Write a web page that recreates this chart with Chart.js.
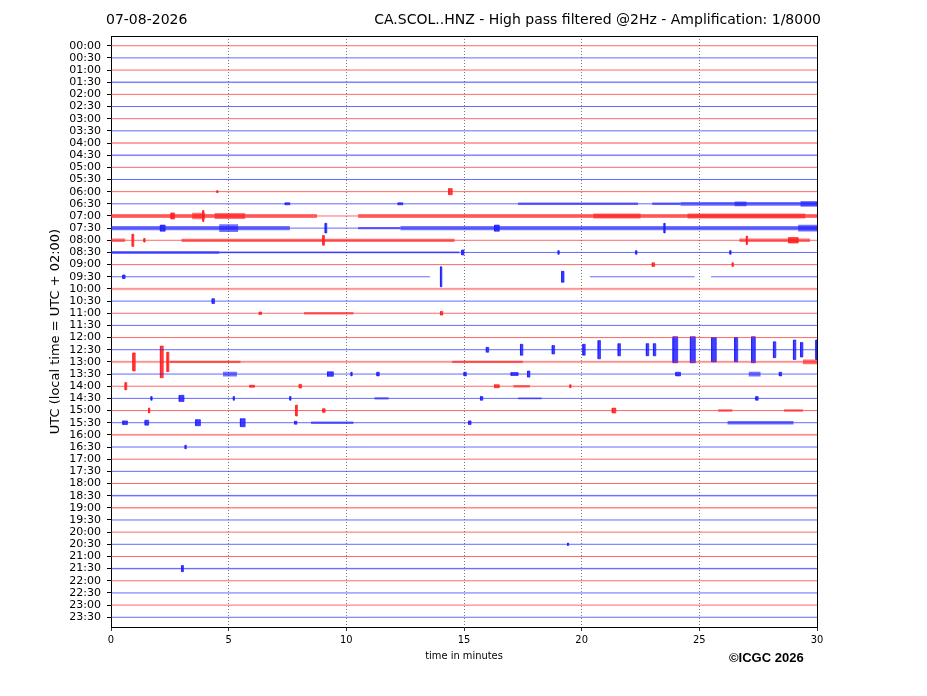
<!DOCTYPE html>
<html>
<head>
<meta charset="utf-8">
<script src="https://cdn.jsdelivr.net/npm/chart.js@4.4.0/dist/chart.umd.min.js"></script>
<style>
  body { margin: 0; background: #fff; }
  #wrap { position: relative; width: 927px; height: 696px; }
  #heli { position: absolute; left: 0; top: 0; }
  .t { position: absolute; font-family: "DejaVu Sans"; font-size: 14px; color: #000; white-space: nowrap; }
</style>
</head>
<body>
<div id="wrap">
  <canvas id="heli" width="927" height="696"></canvas>
  <div class="t" style="left:106px; top:11px;">07-08-2026</div>
  <div class="t" style="right:106px; top:11px;">CA.SCOL..HNZ - High pass filtered @2Hz - Amplification: 1/8000</div>
  <div class="t" style="left:729px; top:650px; font-family:'Liberation Sans'; font-weight:bold; font-size:13px;">©ICGC 2026</div>
</div>
<script>
// one trace per half hour, 0..30 minutes each
const rowLabels = [
  '00:00','00:30','01:00','01:30','02:00','02:30','03:00','03:30',
  '04:00','04:30','05:00','05:30','06:00','06:30','07:00','07:30',
  '08:00','08:30','09:00','09:30','10:00','10:30','11:00','11:30',
  '12:00','12:30','13:00','13:30','14:00','14:30','15:00','15:30',
  '16:00','16:30','17:00','17:30','18:00','18:30','19:00','19:30',
  '20:00','20:30','21:00','21:30','22:00','22:30','23:00','23:30'
];
const xTicks = [0, 5, 10, 15, 20, 25, 30];

// missing data: [row, from minute, to minute]
const dataGaps = [
  [19, 13.55, 20.35],
  [19, 24.8, 25.5]
];

// background noise that thickens some traces: [row, amplitude in trace units]
const hazeRows = [
  [3, 0.08], [8, 0.06], [9, 0.08], [20, 0.12], [26, 0.12],
  [32, 0.1], [37, 0.1], [38, 0.06], [43, 0.1]
];

// noise bands and bursts: [row, from minute, to minute, amplitude]
const bursts = [
  [12, 14.35, 14.5, 0.25], [12, 4.5, 4.55, 0.08],
  [13, 7.4, 7.6, 0.08], [13, 12.2, 12.4, 0.08], [13, 17.3, 22.4, 0.1], [13, 23.0, 24.2, 0.1],
  [13, 24.2, 30, 0.15], [13, 26.5, 27.0, 0.2], [13, 29.3, 30, 0.24],
  [14, 0, 8.75, 0.17], [14, 2.55, 2.7, 0.25], [14, 3.45, 4.0, 0.27], [14, 3.9, 3.95, 0.45],
  [14, 4.4, 5.7, 0.24], [14, 10.5, 30, 0.16], [14, 20.5, 22.5, 0.2], [14, 24.5, 29.5, 0.2],
  [15, 0, 7.6, 0.17], [15, 2.1, 2.3, 0.25], [15, 4.6, 5.4, 0.32], [15, 9.1, 9.17, 0.4],
  [15, 10.5, 12.3, 0.1], [15, 12.3, 30, 0.17], [15, 16.3, 16.5, 0.25], [15, 23.5, 23.55, 0.4],
  [15, 29.2, 30, 0.27],
  [16, 0, 0.6, 0.14], [16, 0.9, 0.97, 0.5], [16, 1.4, 1.45, 0.15], [16, 3.0, 14.6, 0.13],
  [16, 9.0, 9.07, 0.4], [16, 26.7, 29.7, 0.15], [16, 27.0, 27.05, 0.35], [16, 28.8, 29.2, 0.22],
  [17, 0, 4.6, 0.12], [17, 4.6, 14.8, 0.07], [17, 14.9, 15.0, 0.2], [17, 19.0, 19.05, 0.15],
  [17, 22.3, 22.35, 0.15], [17, 26.3, 26.35, 0.15],
  [18, 23.0, 23.1, 0.15], [18, 26.4, 26.45, 0.15],
  [19, 0.5, 0.6, 0.15], [19, 14.0, 14.06, 0.82], [19, 19.15, 19.25, 0.45],
  [21, 4.3, 4.4, 0.2],
  [22, 6.3, 6.4, 0.1], [22, 8.2, 10.3, 0.1], [22, 14.0, 14.1, 0.15],
  [25, 15.95, 16.05, 0.2], [25, 17.4, 17.5, 0.45], [25, 18.75, 18.85, 0.35],
  [25, 20.05, 20.15, 0.45], [25, 20.7, 20.8, 0.75], [25, 21.55, 21.65, 0.5],
  [25, 22.75, 22.85, 0.5], [25, 23.05, 23.15, 0.5], [25, 23.88, 24.08, 1.07],
  [25, 24.62, 24.83, 1.07], [25, 25.52, 25.72, 1.0], [25, 26.5, 26.63, 1.0],
  [25, 27.22, 27.38, 1.07], [25, 28.15, 28.25, 0.65], [25, 29.0, 29.1, 0.8],
  [25, 29.3, 29.4, 0.6], [25, 29.95, 30, 0.8],
  [26, 0.93, 1.03, 0.74], [26, 2.1, 2.22, 1.3], [26, 2.38, 2.46, 0.8], [26, 2.5, 5.5, 0.1],
  [26, 14.5, 17.5, 0.1], [26, 29.4, 30, 0.2],
  [27, 4.76, 5.35, 0.2], [27, 9.2, 9.45, 0.18], [27, 10.2, 10.25, 0.15], [27, 11.3, 11.4, 0.15],
  [27, 15.0, 15.1, 0.15], [27, 17.0, 17.3, 0.12], [27, 17.7, 17.8, 0.25], [27, 24.0, 24.2, 0.15],
  [27, 27.1, 27.6, 0.2], [27, 28.4, 28.5, 0.15],
  [28, 0.6, 0.67, 0.3], [28, 5.9, 6.1, 0.08], [28, 8.0, 8.1, 0.15], [28, 16.3, 16.5, 0.12],
  [28, 17.1, 17.8, 0.1], [28, 19.5, 19.55, 0.12],
  [29, 1.7, 1.75, 0.15], [29, 2.9, 3.1, 0.25], [29, 5.2, 5.25, 0.15], [29, 7.6, 7.65, 0.15],
  [29, 11.2, 11.8, 0.1], [29, 15.7, 15.8, 0.15], [29, 17.3, 18.3, 0.08], [29, 27.4, 27.5, 0.15],
  [30, 1.6, 1.65, 0.2], [30, 7.85, 7.92, 0.45], [30, 9.0, 9.1, 0.15], [30, 21.3, 21.45, 0.2],
  [30, 25.8, 26.4, 0.1], [30, 28.6, 29.4, 0.1],
  [31, 0.5, 0.7, 0.15], [31, 1.45, 1.6, 0.2], [31, 3.6, 3.8, 0.25], [31, 5.5, 5.7, 0.33],
  [31, 7.8, 7.9, 0.12], [31, 8.5, 10.3, 0.1], [31, 15.2, 15.3, 0.15], [31, 26.2, 29.0, 0.15],
  [33, 3.15, 3.2, 0.15],
  [41, 19.4, 19.45, 0.1],
  [43, 3.0, 3.08, 0.25]
];

const RED = '255,30,30', BLUE = '30,30,255';
const rgb = r => (r % 2 === 0 ? RED : BLUE);

// baselines, one dataset per colour, rows split by null points
function baseline(parity) {
  const pts = [];
  rowLabels.forEach((_, r) => {
    if (r % 2 !== parity) return;
    let t = 0;
    dataGaps.filter(g => g[0] === r).forEach(g => {
      pts.push({x: t, y: r}, {x: g[1], y: r}, {x: g[1], y: null});
      t = g[2];
    });
    pts.push({x: t, y: r}, {x: 30, y: r}, {x: 30, y: null});
  });
  return {
    data: pts, borderColor: 'rgba(' + (parity ? BLUE : RED) + ',0.75)',
    borderWidth: 0.9, pointRadius: 0, fill: false, spanGaps: false
  };
}

// long stretches of noise are drawn as a lighter band, short bursts solid
function band(r, t0, t1, a, alpha, edge) {
  const c = 'rgba(' + rgb(r) + ',' + alpha + ')';
  return {
    data: [{x: t0, y: r - a}, {x: t0, y: r + a}, {x: t1, y: r + a}, {x: t1, y: r - a}, {x: t0, y: r - a}],
    borderColor: c, backgroundColor: c, borderWidth: edge, pointRadius: 0, fill: 'shape'
  };
}

const datasets = [];
hazeRows.forEach(h => datasets.push(band(h[0], 0, 30, h[1], 0.14, 0)));
datasets.push(baseline(0), baseline(1));
bursts.forEach(b => {
  const long = b[2] - b[1] > 0.4;
  datasets.push(band(b[0], b[1], b[2], b[3], long ? 0.62 : 0.85, long ? 0 : 0.8));
});

new Chart(document.getElementById('heli'), {
  type: 'line',
  data: { datasets },
  options: {
    responsive: false,
    animation: false,
    devicePixelRatio: 1,
    layout: { padding: { left: 48, right: 110, top: 36, bottom: 31 } },
    plugins: { legend: { display: false }, tooltip: { enabled: false } },
    elements: { line: { tension: 0 } },
    scales: {
      x: {
        type: 'linear', position: 'bottom', min: 0, max: 30,
        afterBuildTicks: s => { s.ticks = xTicks.map(v => ({ value: v })); },
        ticks: { color: '#000', padding: 3, font: { family: 'DejaVu Sans Condensed', size: 11 } },
        grid: {
          color: c => (c.tick && c.tick.value > 0 && c.tick.value < 30) ? '#555' : 'transparent',
          lineWidth: 0.8, tickColor: '#000', tickLength: 4
        },
        border: { display: true, color: '#000', width: 1, dash: [1, 2] },
        title: {
          display: true, text: 'time in minutes', color: '#000',
          font: { family: 'DejaVu Sans Condensed', size: 11 }, padding: { top: 2, bottom: 2 }
        },
        afterFit: s => { s.height = 38; }
      },
      xTop: {
        type: 'linear', position: 'top', min: 0, max: 30,
        ticks: { display: false }, grid: { display: false, drawTicks: false },
        border: { display: true, color: '#000', width: 1 },
        afterFit: s => { s.height = 0; }
      },
      y: {
        type: 'linear', position: 'left', reverse: true, min: -0.8, max: 47.8,
        afterBuildTicks: s => { s.ticks = rowLabels.map((_, i) => ({ value: i })); },
        ticks: {
          autoSkip: false, color: '#000', padding: 6,
          font: { family: 'DejaVu Sans', size: 11 },
          callback: v => rowLabels[v]
        },
        grid: { drawOnChartArea: false, tickColor: '#000', tickLength: 4 },
        border: { display: true, color: '#000', width: 1 },
        title: {
          display: true, text: 'UTC (local time = UTC + 02:00)', color: '#000',
          font: { family: 'DejaVu Sans', size: 13 }, padding: 0
        },
        afterFit: s => { s.width = 63; }
      },
      yRight: {
        type: 'linear', position: 'right', min: -0.8, max: 47.8,
        ticks: { display: false }, grid: { display: false, drawTicks: false },
        border: { display: true, color: '#000', width: 1 },
        afterFit: s => { s.width = 0; }
      }
    }
  }
});
</script>
</body>
</html>
